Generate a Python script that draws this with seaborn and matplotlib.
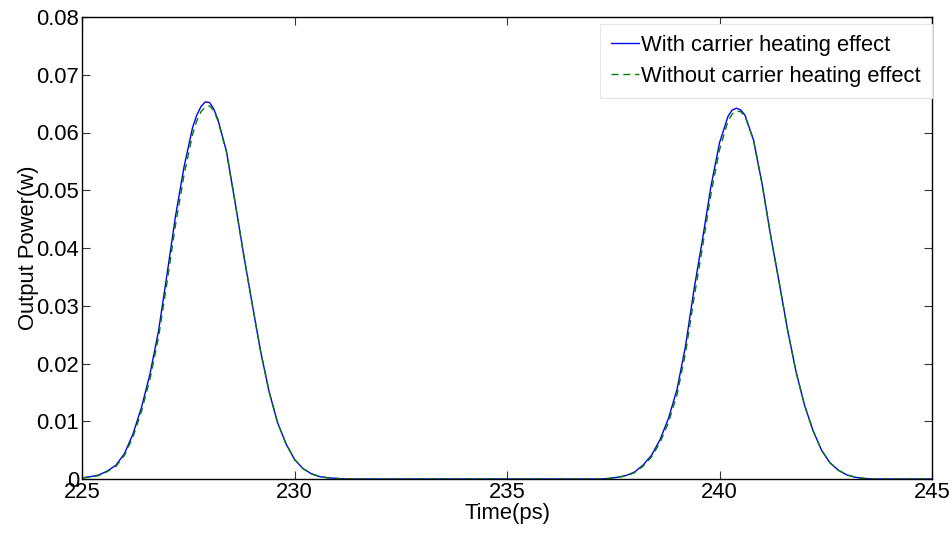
#!/usr/bin/env python
"""Output power of two pulses, with and without the carrier heating effect."""
import matplotlib
matplotlib.use('Agg')
import matplotlib.pyplot as plt
import seaborn as sb
import pandas as pd


# time axis (ps)
time_ps = [
    225.0, 225.2, 225.4, 225.6, 225.8, 226.0, 226.2, 226.4, 226.6, 226.8,
    227.0, 227.2, 227.4, 227.6, 227.7, 227.8, 227.9, 228.0, 228.1, 228.2,
    228.4, 228.6, 228.8, 229.0, 229.2, 229.4, 229.6, 229.8, 230.0, 230.2,
    230.4, 230.6, 230.8, 231.0, 231.2, 232.0, 233.0, 234.0, 235.0, 236.0,
    237.0, 237.2, 237.4, 237.6, 237.8, 238.0, 238.2, 238.4, 238.6, 238.8,
    239.0, 239.2, 239.4, 239.6, 239.8, 240.0, 240.2, 240.3, 240.4, 240.5,
    240.6, 240.8, 241.0, 241.2, 241.4, 241.6, 241.8, 242.0, 242.2, 242.4,
    242.6, 242.8, 243.0, 243.2, 243.4, 243.6, 244.0, 244.5, 245.0,
]

# output power (W) with carrier heating effect
power_with = [
    0.0002, 0.0004, 0.0007, 0.0014, 0.0024, 0.0044, 0.0078, 0.0124, 0.0182, 0.0256,
    0.0354, 0.0455, 0.0540, 0.0608, 0.0630, 0.0645, 0.0653, 0.0652, 0.0641, 0.0622,
    0.0567, 0.0480, 0.0390, 0.0305, 0.0222, 0.0152, 0.0098, 0.0061, 0.0034, 0.0018,
    0.0009, 0.0004, 0.0002, 0.0001, 0.0, 0.0, 0.0, 0.0, 0.0, 0.0,
    0.0, 0.0, 0.0001, 0.0003, 0.0006, 0.0012, 0.0024, 0.0041, 0.0068, 0.0105,
    0.0155, 0.0230, 0.0328, 0.0415, 0.0507, 0.0582, 0.0628, 0.0639, 0.0642, 0.0639,
    0.0630, 0.0587, 0.0512, 0.0423, 0.0342, 0.0259, 0.0186, 0.0128, 0.0084, 0.0050,
    0.0028, 0.0015, 0.0007, 0.0003, 0.0001, 0.0, 0.0, 0.0, 0.0,
]

# output power (W) without carrier heating effect
power_without = [
    0.0002, 0.0003, 0.0006, 0.0013, 0.0022, 0.0041, 0.0073, 0.0117, 0.0173, 0.0245,
    0.0340, 0.0440, 0.0526, 0.0596, 0.0620, 0.0636, 0.0644, 0.0646, 0.0638, 0.0620,
    0.0566, 0.0480, 0.0390, 0.0305, 0.0222, 0.0152, 0.0098, 0.0061, 0.0034, 0.0018,
    0.0009, 0.0004, 0.0002, 0.0001, 0.0, 0.0, 0.0, 0.0, 0.0, 0.0,
    0.0, 0.0, 0.0001, 0.0003, 0.0005, 0.0011, 0.0022, 0.0038, 0.0063, 0.0098,
    0.0146, 0.0218, 0.0313, 0.0402, 0.0494, 0.0570, 0.0620, 0.0632, 0.0637, 0.0636,
    0.0628, 0.0587, 0.0512, 0.0423, 0.0342, 0.0259, 0.0186, 0.0128, 0.0084, 0.0050,
    0.0028, 0.0015, 0.0007, 0.0003, 0.0001, 0.0, 0.0, 0.0, 0.0,
]

x_ticks = [225, 230, 235, 240, 245]
x_tick_labels = ['225', '230', '235', '240', '245']
y_ticks = [0.0, 0.01, 0.02, 0.03, 0.04, 0.05, 0.06, 0.07, 0.08]
y_tick_labels = ['0', '0.01', '0.02', '0.03', '0.04', '0.05', '0.06', '0.07', '0.08']

label_with = 'With carrier heating effect'
label_without = 'Without carrier heating effect'


def main():
    sb.set_style('white')
    plt.rcParams['font.family'] = ['Liberation Sans', 'DejaVu Sans']
    plt.rcParams['text.color'] = 'black'
    plt.rcParams['axes.labelcolor'] = 'black'
    font_size = 15.8

    df = pd.DataFrame({'time': time_ps,
                       'with': power_with,
                       'without': power_without})

    fig = plt.figure(figsize=(9.52, 5.33), dpi=100)
    ax = fig.add_axes([82 / 952, 54 / 533, 850 / 952, 462 / 533])

    sb.lineplot(data=df, x='time', y='with', ax=ax, color='#0000ff',
                linewidth=1.0, label=label_with)
    sb.lineplot(data=df, x='time', y='without', ax=ax, color='#008000',
                linewidth=1.0, linestyle='--', label=label_without)
    ax.lines[1].set_dashes((5, 3.5))

    ax.set_xlim(225, 245)
    ax.set_ylim(0, 0.08)
    ax.set_xticks(x_ticks)
    ax.set_xticklabels(x_tick_labels, fontsize=font_size)
    ax.set_yticks(y_ticks)
    ax.set_yticklabels(y_tick_labels, fontsize=font_size)
    ax.tick_params(direction='in', length=6, width=0.8, color='#333333',
                   labelcolor='black', top=True, right=True, bottom=True,
                   left=True, pad=2)

    for spine in ax.spines.values():
        spine.set_color('black')
        spine.set_linewidth(1.0)

    ax.set_xlabel('Time(ps)', fontsize=font_size, labelpad=0)
    ax.set_ylabel('Output Power(w)', fontsize=font_size, labelpad=-2)

    leg = ax.legend(loc='upper right', bbox_to_anchor=(1.0, 0.985),
                    fontsize=font_size, frameon=True, fancybox=False,
                    edgecolor='#e6e6e6', framealpha=1.0, borderaxespad=0,
                    handlelength=1.3, handletextpad=0.1, labelspacing=0.45,
                    borderpad=0.5)
    leg.get_frame().set_linewidth(0.8)

    fig.savefig('out.png', dpi=100)


if __name__ == "__main__":
    main()
